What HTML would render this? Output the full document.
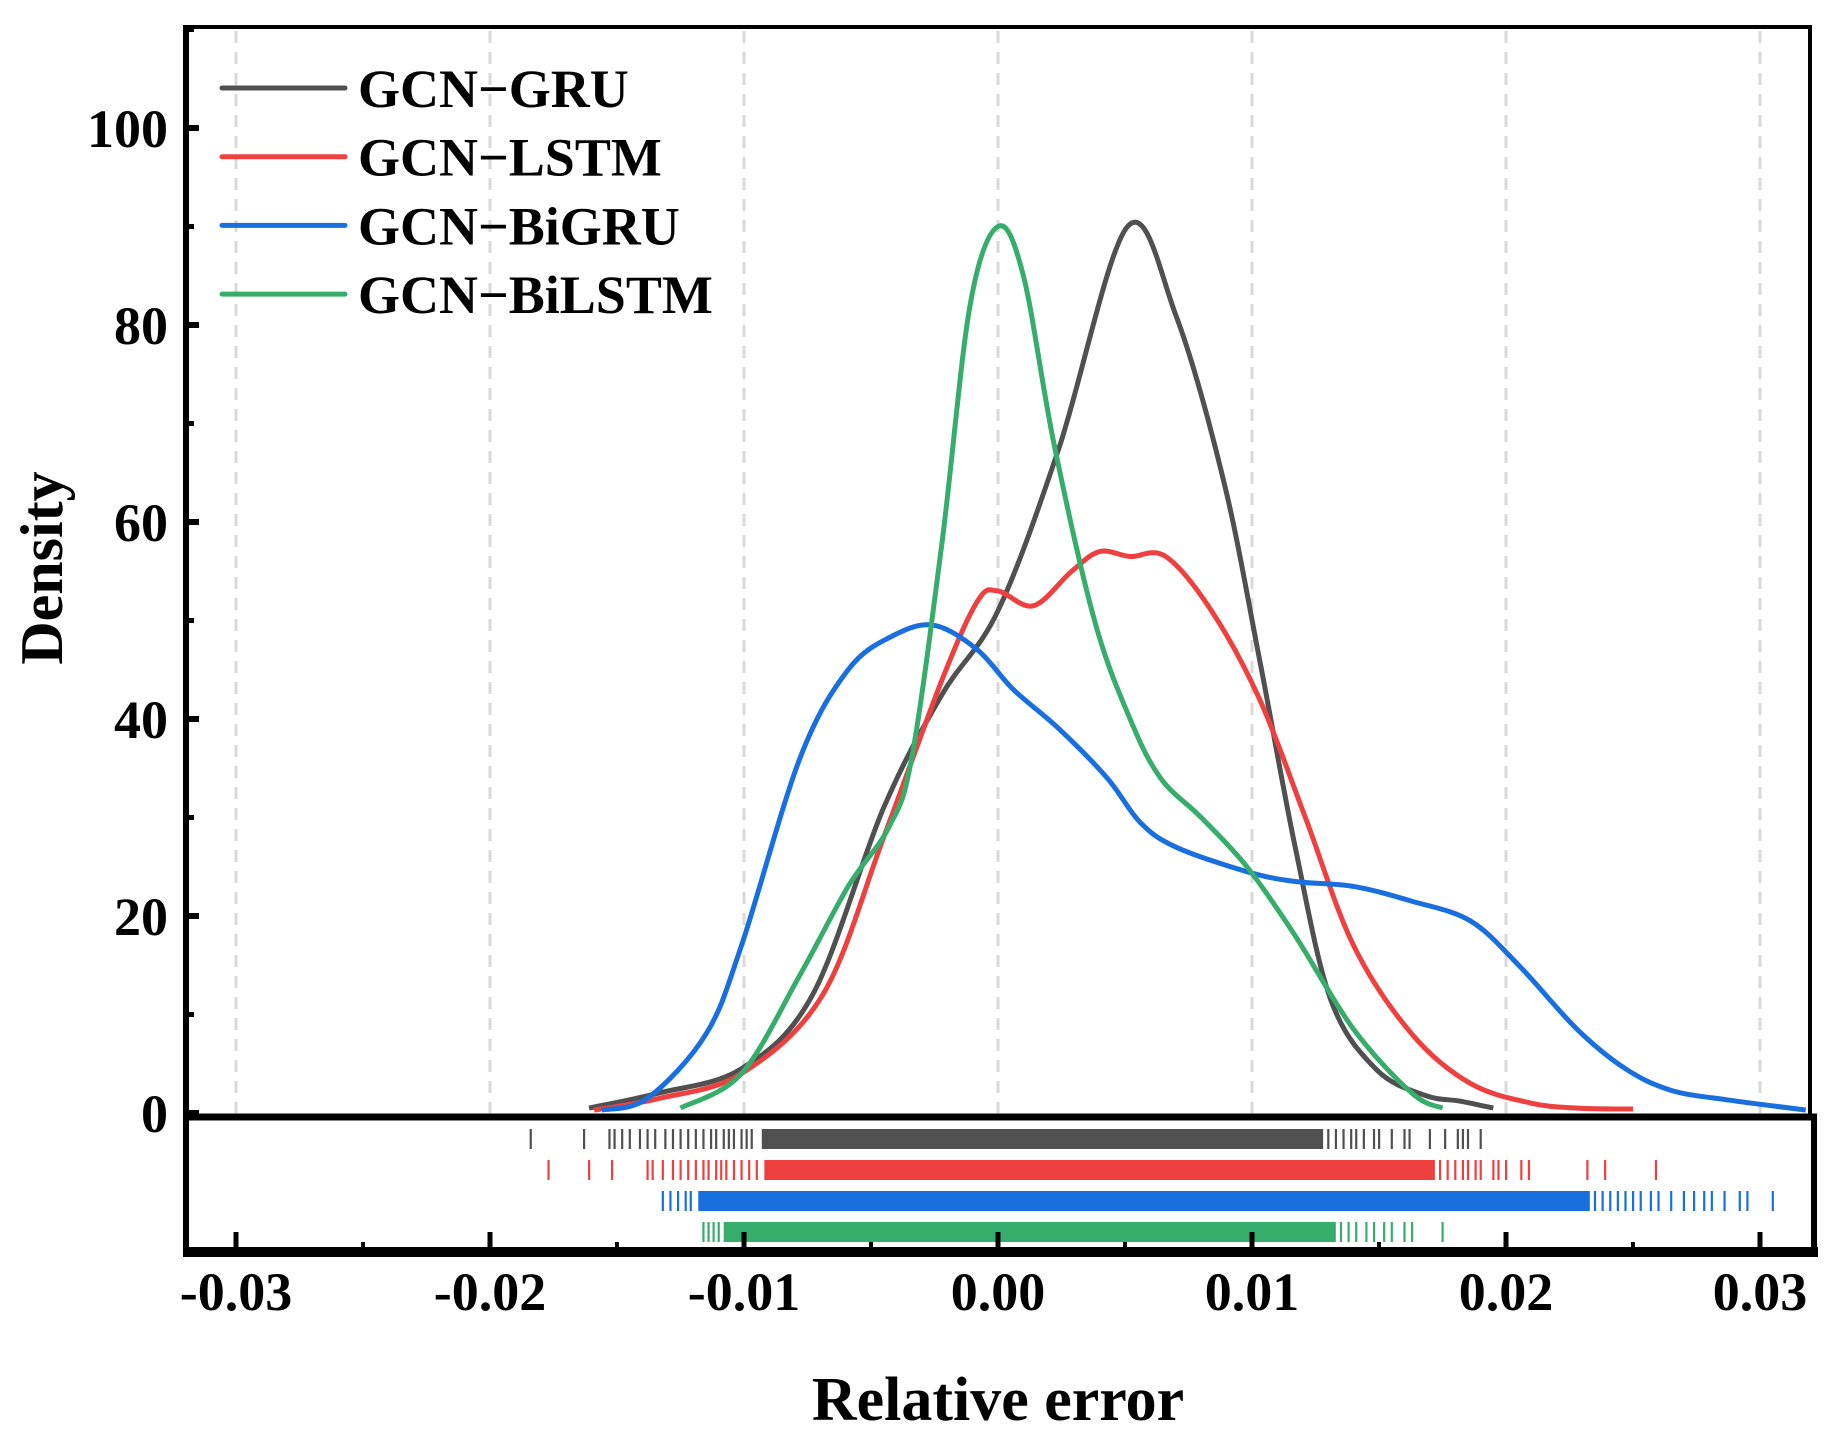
<!DOCTYPE html>
<html><head><meta charset="utf-8"><style>
html,body{margin:0;padding:0;background:#fff;}
svg{display:block;}
text{font-family:"Liberation Serif",serif;font-weight:bold;fill:#000;}
</style></head><body>
<svg id="chart" width="1844" height="1433" viewBox="0 0 1844 1433" xmlns="http://www.w3.org/2000/svg">
<g id="grid"></g>
<g id="curves"></g>
<g id="rug"></g>
<g id="axes"></g>
<g id="legend"></g>
<text x="998" y="1420" font-size="62" text-anchor="middle">Relative error</text>
<text transform="translate(62,568) rotate(-90)" font-size="60" text-anchor="middle">Density</text>
</svg>
<script>
const seriesNames = ["GCN\u2212GRU","GCN\u2212LSTM","GCN\u2212BiGRU","GCN\u2212BiLSTM"];
const seriesColors = ["#505050","#ef4040","#1a6fdf","#37ad6b"];
const xTicks = [-0.03,-0.02,-0.01,0,0.01,0.02,0.03];
const xTickLabels = ["-0.03","-0.02","-0.01","0.00","0.01","0.02","0.03"];
const yTicks = [0,20,40,60,80,100];
const gruX = [-0.0161,-0.0134,-0.0101,-0.0073,-0.0045,-0.0022,0,0.0024,0.0051,0.007,0.0089,0.0103,0.0117,0.0131,0.0149,0.0168,0.0182,0.0195];
const gruY = [0.5,2,4.5,12,31,42.5,51,67.5,90,81,64,46,27,11.5,4.4,1.8,1.2,0.5];
const lstmX = [-0.0159,-0.0133,-0.0101,-0.0069,-0.0045,-0.0022,-0.0008,0,0.0014,0.0029,0.004,0.0052,0.0066,0.0084,0.0103,0.0121,0.014,0.0163,0.0186,0.021,0.0228,0.025];
const lstmY = [0.3,1.5,4,12,28,44,52,53,51.5,55,57,56.5,56.5,51,42,30,17,8,3,1,0.5,0.4];
const bigruX = [-0.0156,-0.0138,-0.0115,-0.0101,-0.0078,-0.0059,-0.0041,-0.0025,-0.0008,0.0006,0.0024,0.0043,0.0056,0.007,0.0098,0.0117,0.014,0.0163,0.0186,0.0205,0.0228,0.0247,0.0265,0.0288,0.0318];
const bigruY = [0.3,1.5,8,17,36,45,48.5,49.5,47,43,39,34,29.5,27,24.5,23.5,23,21.5,19.5,15,8.5,4.5,2.3,1.3,0.3];
const bilstmX = [-0.0125,-0.0101,-0.0078,-0.0059,-0.0043,-0.0034,-0.0022,-0.0011,0,0.001,0.0022,0.0038,0.0052,0.0064,0.008,0.0098,0.0117,0.014,0.0163,0.0175];
const bilstmY = [0.5,4,14,23,29,36,58,82,90,85,68,50,40,34,30,25,18,8.5,2,0.5];
const gruDense = [-0.0093,0.0128];
const lstmDense = [-0.0092,0.0172];
const bigruDense = [-0.0118,0.0233];
const bilstmDense = [-0.0108,0.0133];
const gruRug = [-0.0184,-0.0163,-0.0153,-0.0151,-0.0148,-0.0145,-0.0141,-0.0138,-0.0135,-0.0131,-0.0128,-0.0125,-0.0122,-0.0119,-0.0116,-0.0113,-0.0111,-0.0108,-0.0106,-0.0104,-0.0101,-0.0099,-0.0097,0.0130,0.0133,0.0136,0.0139,0.0141,0.0144,0.0148,0.0150,0.0155,0.0160,0.0162,0.0170,0.0176,0.0181,0.0183,0.0185,0.0190];
const lstmRug = [-0.0177,-0.0161,-0.0152,-0.0138,-0.0136,-0.0132,-0.0128,-0.0125,-0.0122,-0.0119,-0.0116,-0.0114,-0.0111,-0.0109,-0.0107,-0.0104,-0.0101,-0.0098,-0.0095,0.0174,0.0177,0.0180,0.0183,0.0185,0.0188,0.0190,0.0195,0.0197,0.0200,0.0206,0.0209,0.0232,0.0239,0.0259];
const bigruRug = [-0.0132,-0.0129,-0.0126,-0.0123,-0.0121,0.0235,0.0238,0.0241,0.0244,0.0247,0.0250,0.0253,0.0257,0.0260,0.0265,0.0270,0.0274,0.0278,0.0281,0.0286,0.0292,0.0295,0.0305];
const bilstmRug = [-0.0116,-0.0114,-0.0112,-0.0110,0.0135,0.0138,0.0141,0.0145,0.0148,0.0152,0.0155,0.0160,0.0163,0.0175];

const NS="http://www.w3.org/2000/svg";
const L=186,R=1810,T=27,Y0=1113,RB=1252;
function sx(v){return 998+v*25400;}
function sy(v){return Y0-v*9.85;}
function mk(tag,parent,attrs){const e=document.createElementNS(NS,tag);for(const k in attrs)e.setAttribute(k,attrs[k]);parent.appendChild(e);return e;}
const grid=document.getElementById('grid'),curves=document.getElementById('curves'),rug=document.getElementById('rug'),axes=document.getElementById('axes'),legend=document.getElementById('legend');

xTicks.forEach((t,i)=>{
  const g=mk('line',grid,{x1:sx(t),x2:sx(t),y1:T+4,y2:Y0,stroke:'#d9d9d9','stroke-width':3,'stroke-dasharray':'12,9'});
  
  
});

function pathFrom(xs,ys){
  const p=xs.map((x,i)=>[sx(x),sy(ys[i])]);
  let d='M'+p[0][0]+','+p[0][1];
  for(let i=0;i<p.length-1;i++){
    const p0=p[Math.max(0,i-1)],p1=p[i],p2=p[i+1],p3=p[Math.min(p.length-1,i+2)];
    const c1=[p1[0]+(p2[0]-p0[0])/6,p1[1]+(p2[1]-p0[1])/6];
    const c2=[p2[0]-(p3[0]-p1[0])/6,p2[1]-(p3[1]-p1[1])/6];
    d+=' C'+c1[0]+','+c1[1]+' '+c2[0]+','+c2[1]+' '+p2[0]+','+p2[1];
  }
  return d;
}
const allX=[gruX,lstmX,bigruX,bilstmX],allY=[gruY,lstmY,bigruY,bilstmY];
const allDense=[gruDense,lstmDense,bigruDense,bilstmDense],allRug=[gruRug,lstmRug,bigruRug,bilstmRug];
const slug=['gcn-gru','gcn-lstm','gcn-bigru','gcn-bilstm'];
for(let s=0;s<4;s++){
  const c=mk('path',curves,{d:pathFrom(allX[s],allY[s]),fill:'none',stroke:seriesColors[s],'stroke-width':5,'stroke-linejoin':'round'});
  
  
  const ry=1129+s*31;
  const band=mk('rect',rug,{x:sx(allDense[s][0]),y:ry,width:sx(allDense[s][1])-sx(allDense[s][0]),height:20,fill:seriesColors[s]});
  
  
  allRug[s].forEach(v=>{
    const t=mk('rect',rug,{x:sx(v)-1,y:ry,width:2.2,height:20,fill:seriesColors[s]});
    
    
  });
  const ly=88+s*68.7;
  const ll=mk('line',legend,{x1:222,x2:345,y1:ly,y2:ly,stroke:seriesColors[s],'stroke-width':5,'stroke-linecap':'round'});
  
  
  const lt=mk('text',legend,{x:358,y:ly+19,'font-size':54});
  lt.textContent=seriesNames[s];
  
  
}
function ln(x1,y1,x2,y2,w,name){const e=mk('line',axes,{x1,y1,x2,y2,stroke:'#000','stroke-width':w});return e;}
ln(L-2,T,R+2,T,4,'top-border');
ln(R,T,R,Y0+4,4,'right-border');
ln(L,T-2,L,RB+4,6,'y-axis-line');
ln(L-3,Y0+4,1817,Y0+4,7,'x-axis-line-main');
ln(1814,Y0+4,1814,RB,6,'rug-right-border');
ln(L-3,RB,1818,RB,10,'x-axis-line');
yTicks.forEach(t=>{
  ln(L,sy(t),L+13,sy(t),6,'y-tick-'+t);
  const tx=mk('text',axes,{x:168,y:sy(t)+19,'font-size':54,'text-anchor':'end'});
  tx.textContent=String(t);
  
  
});
[10,30,50,70,90,110].forEach(t=>ln(L,sy(t),L+8,sy(t),5,'y-minor-tick'));
xTicks.forEach((t,i)=>{
  ln(sx(t),RB,sx(t),RB-20,5,'x-tick-'+xTickLabels[i]);
  const tx=mk('text',axes,{x:sx(t),y:1310,'font-size':54,'text-anchor':'middle'});
  tx.textContent=xTickLabels[i];
  
  
});
[-0.025,-0.015,-0.005,0.005,0.015,0.025].forEach(t=>ln(sx(t),RB,sx(t),RB-10,4,'x-minor-tick'));
</script>
</body></html>
